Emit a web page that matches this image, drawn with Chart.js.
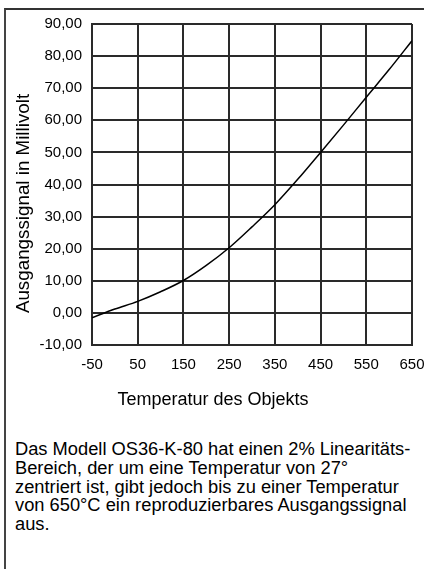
<!DOCTYPE html>
<html>
<head>
<meta charset="utf-8">
<script src="https://cdn.jsdelivr.net/npm/chart.js@4/dist/chart.umd.min.js"></script>
<style>
  html, body { margin: 0; padding: 0; background: #fff; }
  body { width: 424px; height: 569px; position: relative; overflow: hidden; font-family: "Liberation Sans", Arial, sans-serif; }
  #frame { position: absolute; left: 4px; top: 8px; width: 430px; height: 600px; border-left: 2px solid #444; border-top: 2px solid #333; }
  #wrap { position: absolute; left: 6px; top: 10px; width: 418px; height: 410px; }
  #note { position: absolute; left: 15px; top: 440px; width: 405px; font-size: 18.3px; line-height: 18.75px; color: #000; white-space: nowrap; }
</style>
</head>
<body>
<div id="frame"></div>
<div id="wrap"><canvas id="c" width="418" height="410"></canvas></div>
<div id="note">Das Modell OS36-K-80 hat einen 2% Linearitäts-<br>Bereich, der um eine Temperatur von 27°<br>zentriert ist, gibt jedoch bis zu einer Temperatur<br>von 650°C ein reproduzierbares Ausgangssignal<br>aus.</div>
<script>
const temperatures = [-50, 0, 50, 100, 150, 200, 250, 300, 350, 400, 450, 500, 550, 600, 650];
const millivolts = [-1.5, 1.2, 3.6, 6.6, 10.1, 14.8, 20.3, 26.8, 33.7, 41.6, 50.0, 58.5, 67.2, 75.8, 84.8];
const xTicks = [-50, 50, 150, 250, 350, 450, 550, 650];
const yTicks = [-10, 0, 10, 20, 30, 40, 50, 60, 70, 80, 90];
const xTitle = 'Temperatur des Objekts';
const yTitle = 'Ausgangssignal in Millivolt';

const FONT = '"Liberation Sans", Arial, sans-serif';
const gridColor = '#2a2a2a';

const axisTitlesPlugin = {
  id: 'axisTitlesPlugin',
  afterDraw(chart) {
    const a = chart.chartArea, ctx = chart.ctx;
    ctx.save();
    ctx.fillStyle = '#000';
    ctx.textAlign = 'center';
    ctx.textBaseline = 'middle';
    ctx.font = '18px ' + FONT;
    ctx.fillText(xTitle, chart.width / 2 - 2, a.bottom + 55);
    ctx.font = '18.8px ' + FONT;
    ctx.translate(a.left - 68, (a.top + a.bottom) / 2 + 19);
    ctx.rotate(-Math.PI / 2);
    ctx.fillText(yTitle, 0, 0);
    ctx.restore();
  }
};

new Chart(document.getElementById('c'), {
  type: 'line',
  data: {
    datasets: [{
      data: temperatures.map((t, i) => ({ x: t, y: millivolts[i] })),
      borderColor: '#000',
      borderWidth: 1.5,
      pointRadius: 0,
      fill: false,
      cubicInterpolationMode: 'monotone'
    }]
  },
  options: {
    responsive: false,
    animation: false,
    events: [],
    layout: { padding: { left: 0, right: 12, top: 14, bottom: 0 } },
    plugins: { legend: { display: false }, tooltip: { enabled: false }, title: { display: false } },
    scales: {
      x: {
        type: 'linear',
        min: -50, max: 650,
        afterBuildTicks: ax => { ax.ticks = xTicks.map(v => ({ value: v })); },
        afterFit: s => { s.height = 75; s.paddingLeft = 0; s.paddingRight = 0; },
        grid: { color: gridColor, lineWidth: 2, drawTicks: false },
        border: { color: gridColor, width: 2 },
        ticks: { color: '#000', font: { family: FONT, size: 15 }, padding: 11, maxRotation: 0, autoSkip: false }
      },
      y: {
        type: 'linear',
        min: -10, max: 90,
        afterBuildTicks: ax => { ax.ticks = yTicks.map(v => ({ value: v })); },
        afterFit: s => { s.width = 86; s.paddingTop = 0; s.paddingBottom = 0; },
        grid: { color: gridColor, lineWidth: 2, drawTicks: false },
        border: { color: gridColor, width: 2 },
        ticks: { color: '#000', font: { family: FONT, size: 15 }, padding: 10,
                 callback: v => v.toFixed(2).replace('.', ',') }
      }
    }
  },
  plugins: [axisTitlesPlugin]
});
</script>
</body>
</html>
